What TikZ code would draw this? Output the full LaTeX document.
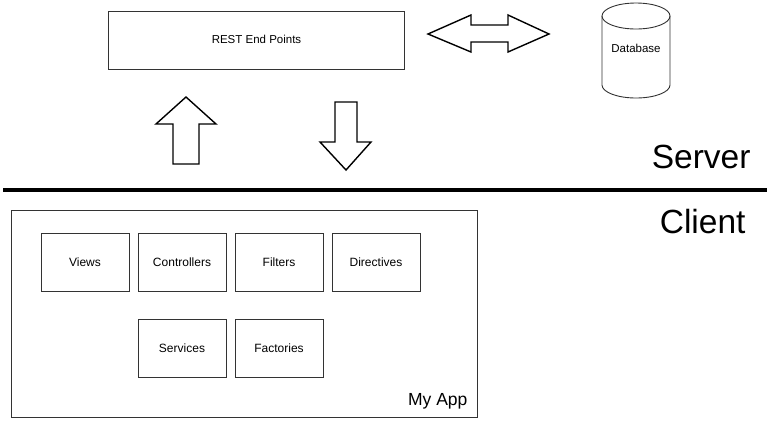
\documentclass[tikz,border=0pt]{standalone}
\usepackage{fontspec}
\setmainfont{Liberation Sans}
\begin{document}
\begin{tikzpicture}[x=1pt,y=-1pt,
  box/.style={draw=black!80,line width=0.9pt,inner sep=0pt},
  comp/.style={box,minimum width=88pt,minimum height=58pt,font=\fontsize{12}{14}\selectfont},
  blockarrow/.style={draw=black,line width=1.4pt,line join=miter,fill=white},
  tier/.style={font=\fontsize{33.5}{38}\selectfont,anchor=base east}]
\useasboundingbox (0,0) rectangle (770,421);

% server side
\node[box,minimum width=296pt,minimum height=58pt,font=\fontsize{11.5}{13}\selectfont]
  (rest) at (256.5,40) {\raisebox{2pt}{REST End Points}};

% database cylinder (y axis points down, so the lower rim runs through angle 90)
\draw[draw=black!80,line width=0.9pt,fill=white]
  (602,16) -- (602,85) arc[start angle=180,end angle=0,x radius=34,y radius=13]
  -- (670,16);
\draw[draw=black!80,line width=0.9pt] (636,16) ellipse[x radius=34,y radius=13];
\node[font=\fontsize{11.5}{13}\selectfont] (db) at (636,48) {Database};

% traffic between endpoints and database
\draw[blockarrow] (428,34) -- (471,15) -- (471,25) -- (508,25) -- (508,15) -- (549,34)
  -- (508,52) -- (508,42) -- (471,42) -- (471,52) -- cycle;

% requests up, responses down
\draw[blockarrow] (186,97) -- (216,124) -- (199,124) -- (199,164) -- (173,164)
  -- (173,124) -- (156,124) -- cycle;
\draw[blockarrow] (335,102) -- (357,102) -- (357,142) -- (371,142) -- (346,170)
  -- (320,142) -- (335,142) -- cycle;

% tier divider
\draw[line width=4pt] (3,189.5) -- (767,189.5);
\node[tier] (server) at (754,168) {Server};
\node[tier] (client) at (749,233) {Client};

% client application
\node[box,minimum width=466pt,minimum height=207pt] (app) at (244.5,313.5) {};
\node[anchor=base east,font=\fontsize{17.5}{20}\selectfont] (appname) at (471,405) {My App};

\node[comp] (views) at (85,262) {Views};
\node[comp] (ctrl) at (182,262) {Controllers};
\node[comp] (filters) at (279,262) {Filters};
\node[comp] (dirs) at (376,262) {Directives};
\node[comp] (svc) at (182,348.5) {Services};
\node[comp] (fact) at (279,348.5) {Factories};
\end{tikzpicture}
\end{document}
